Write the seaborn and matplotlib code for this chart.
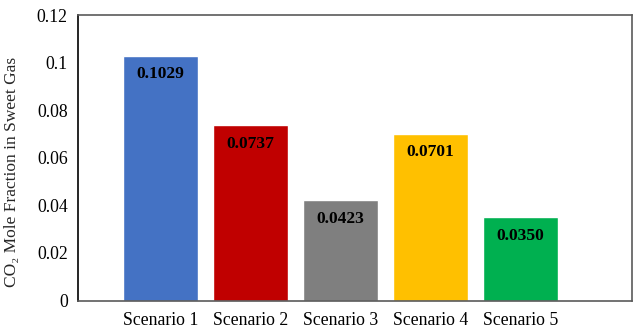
import matplotlib
matplotlib.use("Agg")
import matplotlib.pyplot as plt
import seaborn as sns
import pandas as pd

scenarios = ["Scenario 1", "Scenario 2", "Scenario 3", "Scenario 4", "Scenario 5"]
co2_fraction = [0.1029, 0.0737, 0.0423, 0.0701, 0.0350]
bar_colors = ["#4472C4", "#C00000", "#7F7F7F", "#FFC000", "#00B050"]
y_ticks = [0, 0.02, 0.04, 0.06, 0.08, 0.1, 0.12]
y_tick_labels = ["0", "0.02", "0.04", "0.06", "0.08", "0.1", "0.12"]

sns.set_theme(style="white")
plt.rcParams["font.family"] = ["Liberation Serif", "DejaVu Serif"]

df = pd.DataFrame({"scenario": scenarios, "co2": co2_fraction})

fig = plt.figure(figsize=(6.37, 3.29), dpi=100)
ax = fig.add_axes([0.1217, 0.0866, 0.8703, 0.8678])

sns.barplot(data=df, x="scenario", y="co2", hue="scenario",
            palette=bar_colors, legend=False, width=0.833,
            saturation=1, ax=ax)

ax.set_xlim(-0.922, 5.239)
ax.set_ylim(0, 0.12)
ax.set_yticks(y_ticks)
ax.set_yticklabels(y_tick_labels)
ax.tick_params(axis="both", length=0, labelsize=12.8, colors="black")
ax.tick_params(axis="y", pad=7)
ax.tick_params(axis="x", pad=8)
ax.set_xlabel("")
ax.set_ylabel("CO₂ Mole Fraction in Sweet Gas", fontsize=12.5)
ax.yaxis.set_label_coords(-0.1045, 0.45)

for name, sp in ax.spines.items():
    sp.set_visible(True)
    sp.set_linewidth(1.2)
    sp.set_color("black" if name == "left" else "#5a5a5a")

for i, v in enumerate(co2_fraction):
    ax.annotate(f"{v:.4f}", xy=(i, v), xytext=(0, -13.5),
                textcoords="offset points", ha="center", va="center",
                fontsize=12.6, fontweight="bold", color="black")

fig.savefig("out.png", dpi=100)
